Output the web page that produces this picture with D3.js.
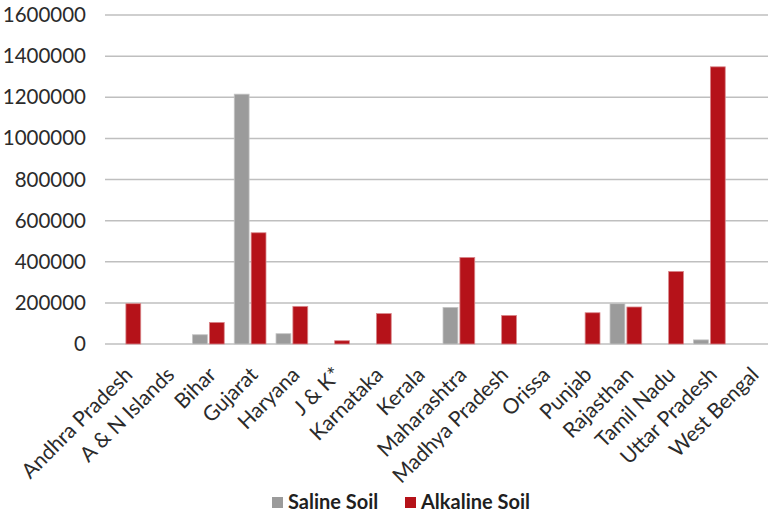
<!DOCTYPE html>
<html>
<head>
<meta charset="UTF-8">
<title>Salt affected soils</title>
<style>
  body { margin: 0; background: #fff; }
  text { font-family: Lato, "Open Sans", sans-serif; }
</style>
</head>
<body>
<script src="https://cdn.jsdelivr.net/npm/d3@7"></script>
<script>
// states on the x axis
var states = ["Andhra Pradesh", "A & N Islands", "Bihar", "Gujarat", "Haryana", "J & K*",
  "Karnataka", "Kerala", "Maharashtra", "Madhya Pradesh", "Orissa", "Punjab",
  "Rajasthan", "Tamil Nadu", "Uttar Pradesh", "West Bengal"];
// area in hectares
var saline = [0, 0, 45000, 1215000, 50000, 0, 0, 0, 178000, 0, 0, 0, 196000, 0, 20000, 0];
var alkaline = [196000, 0, 105000, 541000, 183000, 16000, 148000, 0, 421000, 139000, 0, 152000, 180000, 353000, 1348000, 0];
var seriesNames = ["Saline Soil", "Alkaline Soil"];
var seriesColors = ["#9b9b9b", "#b51219"];
var yTicks = [0, 200000, 400000, 600000, 800000, 1000000, 1200000, 1400000, 1600000];

var width = 768, height = 514;
var svg = d3.select("body").append("svg")
  .attr("width", width)
  .attr("height", height);

var x = d3.scaleBand()
  .domain(states)
  .range([104, 772])
  .paddingInner(0.24)
  .paddingOuter(0.12);

var x1 = d3.scaleBand()
  .domain(seriesNames)
  .range([0, x.bandwidth()])
  .paddingInner(0.12);

var y = d3.scaleLinear()
  .domain([0, 1600000])
  .range([344, 15]);

// gridlines
svg.append("g")
  .selectAll("line")
  .data(yTicks)
  .enter().append("line")
  .attr("x1", 105)
  .attr("x2", width)
  .attr("y1", function(d) { return y(d); })
  .attr("y2", function(d) { return y(d); })
  .attr("stroke", "#bfbfbf")
  .attr("stroke-width", 1.5);

// y axis labels
var yAxis = svg.append("g")
  .attr("transform", "translate(86,0)")
  .call(d3.axisLeft(y).tickValues(yTicks).tickSize(0).tickPadding(0).tickFormat(d3.format("d")));
yAxis.select(".domain").remove();
yAxis.selectAll("text")
  .attr("fill", "#2b2b2b")
  .style("font-size", "20.5px")
  .style("font-family", "Lato, 'Open Sans', sans-serif");

// bars
var rows = states.map(function(s, i) {
  return { state: s, values: [saline[i], alkaline[i]] };
});

var groups = svg.append("g")
  .selectAll("g")
  .data(rows)
  .enter().append("g")
  .attr("transform", function(d) { return "translate(" + x(d.state) + ",0)"; });

groups.selectAll("rect")
  .data(function(d) {
    return d.values.map(function(v, k) { return { key: seriesNames[k], value: v, k: k }; });
  })
  .enter().append("rect")
  .filter(function(d) { return d.value > 0; })
  .attr("x", function(d) { return x1(d.key); })
  .attr("width", x1.bandwidth())
  .attr("y", function(d) { return y(d.value); })
  .attr("height", function(d) { return y(0) - y(d.value); })
  .attr("fill", function(d) { return seriesColors[d.k]; })
  .attr("stroke", function(d) { return d.k ? "#d9888c" : "#c4c4c4"; })
  .attr("stroke-width", 0.8);

// x axis labels
var xAxis = svg.append("g")
  .attr("transform", "translate(0,344)")
  .call(d3.axisBottom(x).tickSize(0).tickPadding(0));
xAxis.select(".domain").remove();
xAxis.selectAll("text")
  .attr("y", 0)
  .attr("dy", 0)
  .attr("text-anchor", "end")
  .attr("transform", "translate(9,32) rotate(-45)")
  .attr("fill", "#2b2b2b")
  .style("font-size", "21px")
  .style("font-family", "Lato, 'Open Sans', sans-serif");

// legend
var legend = svg.append("g")
  .selectAll("g")
  .data(seriesNames)
  .enter().append("g")
  .attr("transform", function(d, i) { return "translate(" + [272, 405][i] + ",497)"; });
legend.append("rect")
  .attr("width", 11)
  .attr("height", 11)
  .attr("fill", function(d, i) { return seriesColors[i]; });
legend.append("text")
  .attr("x", 16)
  .attr("y", 12)
  .attr("fill", "#1f1f1f")
  .style("font-size", "20px")
  .style("font-weight", "bold")
  .text(function(d) { return d; });
</script>
</body>
</html>
